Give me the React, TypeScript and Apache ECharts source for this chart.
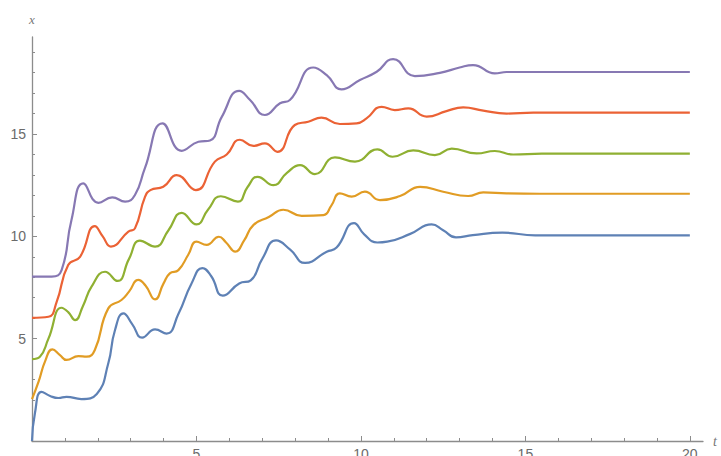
import React, { useEffect, useRef } from "react";
import * as echarts from "echarts";

// Curves: [t, x]
const blueCurve: number[][] = [
  [0, 0], [0.09, 1.37], [0.29, 2.4], [0.55, 2.2], [0.8, 2.1], [1.05, 2.16], [1.5, 2.05], [1.97, 2.3],
  [2.32, 3.8], [2.52, 5.4], [2.78, 6.24], [3.05, 5.7], [3.35, 5.05], [3.74, 5.45], [4.09, 5.25],
  [4.45, 6.2], [4.85, 7.7], [5.18, 8.45], [5.45, 8.05], [5.8, 7.1], [6.3, 7.7], [6.65, 7.85],
  [7.0, 8.9], [7.42, 9.8], [7.85, 9.35], [8.3, 8.7], [8.96, 9.25], [9.26, 9.45], [9.79, 10.65],
  [10.1, 10.1], [10.5, 9.7], [10.8, 9.74], [11.5, 10.12], [12.15, 10.58], [12.5, 10.3], [12.89, 9.95],
  [13.4, 10.06], [14.3, 10.18], [15.3, 10.05], [16.5, 10.05], [20, 10.05],
];
const orangeCurve: number[][] = [
  [0, 2.05], [0.2, 2.9], [0.4, 3.9], [0.62, 4.48], [0.85, 4.2], [1.05, 3.96], [1.41, 4.15], [1.66, 4.12],
  [1.91, 4.45], [2.32, 6.48], [2.72, 6.89], [2.95, 7.3], [3.23, 7.87], [3.45, 7.6], [3.74, 6.92],
  [4.0, 7.7], [4.19, 8.19], [4.45, 8.35], [4.75, 9.1], [5.0, 9.74], [5.31, 9.58], [5.68, 9.98],
  [5.9, 9.7], [6.18, 9.25], [6.45, 9.8], [6.73, 10.55], [7.2, 10.95], [7.64, 11.3], [8.2, 11.0],
  [8.86, 11.04], [9.1, 11.5], [9.36, 12.1], [9.72, 11.94], [10.12, 12.18], [10.58, 11.77],
  [11.19, 11.97], [11.8, 12.42], [12.5, 12.18], [13.26, 11.97], [13.72, 12.15], [14.43, 12.1],
  [15.44, 12.08], [17, 12.08], [20, 12.08],
];
const greenCurve: number[][] = [
  [0, 4.0], [0.24, 4.12], [0.5, 5.0], [0.9, 6.51], [1.1, 6.3], [1.31, 5.91], [1.55, 6.6], [1.81, 7.54],
  [2.22, 8.27], [2.6, 7.82], [2.95, 8.9], [3.28, 9.79], [3.74, 9.5], [4.15, 10.3], [4.55, 11.15],
  [5.0, 10.58], [5.35, 11.3], [5.74, 11.96], [6.26, 11.7], [6.55, 12.4], [6.86, 12.91], [7.34, 12.5],
  [7.75, 13.1], [8.15, 13.48], [8.6, 13.04], [9.21, 13.86], [9.82, 13.65], [10.5, 14.25],
  [10.96, 13.89], [11.59, 14.2], [12.25, 13.97], [12.76, 14.29], [13.52, 14.05], [14.07, 14.17],
  [14.63, 14.0], [15.5, 14.04], [20, 14.04],
];
const redCurve: number[][] = [
  [0, 6.02], [0.5, 6.07], [0.75, 6.8], [1.1, 8.6], [1.46, 9.0], [1.91, 10.5], [2.15, 10.0], [2.4, 9.5],
  [2.93, 10.23], [3.13, 10.39], [3.43, 11.9], [3.6, 12.26], [3.99, 12.42], [4.4, 12.99], [4.98, 12.26],
  [5.56, 13.65], [5.92, 14.0], [6.32, 14.72], [6.73, 14.42], [7.08, 14.54], [7.46, 14.13],
  [7.99, 15.44], [8.4, 15.6], [8.8, 15.8], [9.36, 15.49], [9.87, 15.52], [10.17, 15.76],
  [10.63, 16.33], [11.03, 16.17], [11.44, 16.25], [12.0, 15.85], [12.6, 16.12], [13.11, 16.3],
  [13.72, 16.14], [14.43, 16.0], [15.24, 16.04], [17, 16.04], [20, 16.04],
];
const purpleCurve: number[][] = [
  [0, 8.03], [0.6, 8.03], [0.9, 8.35], [1.2, 10.8], [1.56, 12.59], [2.02, 11.64], [2.44, 11.9],
  [2.83, 11.7], [3.13, 12.02], [3.43, 13.32], [3.97, 15.52], [4.55, 14.18],
  [5.06, 14.62], [5.41, 14.68], [5.77, 15.84], [6.3, 17.11], [6.63, 16.66], [7.08, 15.93],
  [7.54, 16.5], [7.84, 16.66], [8.55, 18.25], [8.96, 17.88], [9.41, 17.18], [9.97, 17.64],
  [10.48, 18.04], [10.98, 18.66], [11.64, 17.83], [12.4, 17.99], [13.0, 18.25], [13.41, 18.37],
  [14.07, 17.96], [14.43, 18.03], [16, 18.03], [20, 18.03],
];

const curves = [blueCurve, orangeCurve, greenCurve, redCurve, purpleCurve];
const curveColors = ["#5E81B5", "#E19C24", "#8FB032", "#EB6235", "#8778B3"];

const xMajorTicks = [0, 5, 10, 15, 20];
const xMinorTicks = [1, 2, 3, 4, 6, 7, 8, 9, 11, 12, 13, 14, 16, 17, 18, 19];
const xTickLabels = [5, 10, 15, 20];
const yMajorTicks = [5, 10, 15];
const yMinorTicks = [1, 2, 3, 4, 6, 7, 8, 9, 11, 12, 13, 14, 16, 17, 18, 19];
const yTickLabels = [5, 10, 15];

const AXIS = "#8c8c8c";
const LABEL = "#6b6b6b";

export default function App() {
  const ref = useRef<HTMLDivElement>(null);
  useEffect(() => {
    if (!ref.current) return;
    const chart = echarts.init(ref.current, undefined, { renderer: "svg" });
    const xBase = { type: "value", min: 0, max: 20.4, position: "bottom", gridIndex: 0, splitLine: { show: false } };
    const yBase = { type: "value", min: 0, max: 19.74, position: "left", gridIndex: 0, splitLine: { show: false } };
    const labelStyle = { color: LABEL, fontSize: 14, fontFamily: "Liberation Sans, Arial, sans-serif" };
    const nameStyle = { color: "#777", fontSize: 14, fontStyle: "italic", fontFamily: "Liberation Serif, serif" };
    chart.setOption({
      animation: false,
      backgroundColor: "#ffffff",
      grid: { left: 32, right: 18, top: 37, bottom: 15, containLabel: false, outerBoundsMode: "none" },
      graphic: [
        {
          type: "text",
          x: 116,
          y: -3.5,
          style: {
            text: "proper",
            font: "31px 'Liberation Serif', serif",
            fill: "#000",
            verticalAlign: "bottom",
          },
        },
      ],
      xAxis: [
        {
          ...xBase,
          axisLine: { show: true, onZero: false, lineStyle: { color: AXIS, width: 1.3 } },
          axisTick: { show: true, inside: true, length: 5, customValues: xMajorTicks, lineStyle: { color: AXIS } },
          axisLabel: { show: true, customValues: xTickLabels, margin: 6, ...labelStyle },
          name: "t",
          nameLocation: "end",
          nameGap: 10,
          nameTextStyle: nameStyle,
        },
        {
          ...xBase,
          axisLine: { show: false },
          axisTick: { show: true, inside: true, length: 3, customValues: xMinorTicks, lineStyle: { color: AXIS } },
          axisLabel: { show: false },
        },
      ],
      yAxis: [
        {
          ...yBase,
          axisLine: { show: true, onZero: false, lineStyle: { color: AXIS, width: 1.3 } },
          axisTick: { show: true, inside: true, length: 5, customValues: yMajorTicks, lineStyle: { color: AXIS } },
          axisLabel: { show: true, customValues: yTickLabels, margin: 6, ...labelStyle },
          name: "x",
          nameLocation: "end",
          nameGap: 11,
          nameTextStyle: { ...nameStyle, fontSize: 13 },
        },
        {
          ...yBase,
          axisLine: { show: false },
          axisTick: { show: true, inside: true, length: 3, customValues: yMinorTicks, lineStyle: { color: AXIS } },
          axisLabel: { show: false },
        },
      ],
      series: curves.map((data, i) => ({
        type: "line",
        xAxisIndex: 0,
        yAxisIndex: 0,
        data,
        smooth: 0.5,
        showSymbol: false,
        symbol: "none",
        lineStyle: { color: curveColors[i], width: 2.2 },
        itemStyle: { color: curveColors[i] },
        z: 2 + i,
      })),
    });
    return () => chart.dispose();
  }, []);
  return (
    <div
      ref={ref}
      style={{ position: "absolute", left: 0, top: 0, width: 721, height: 456, background: "#fff" }}
    />
  );
}
